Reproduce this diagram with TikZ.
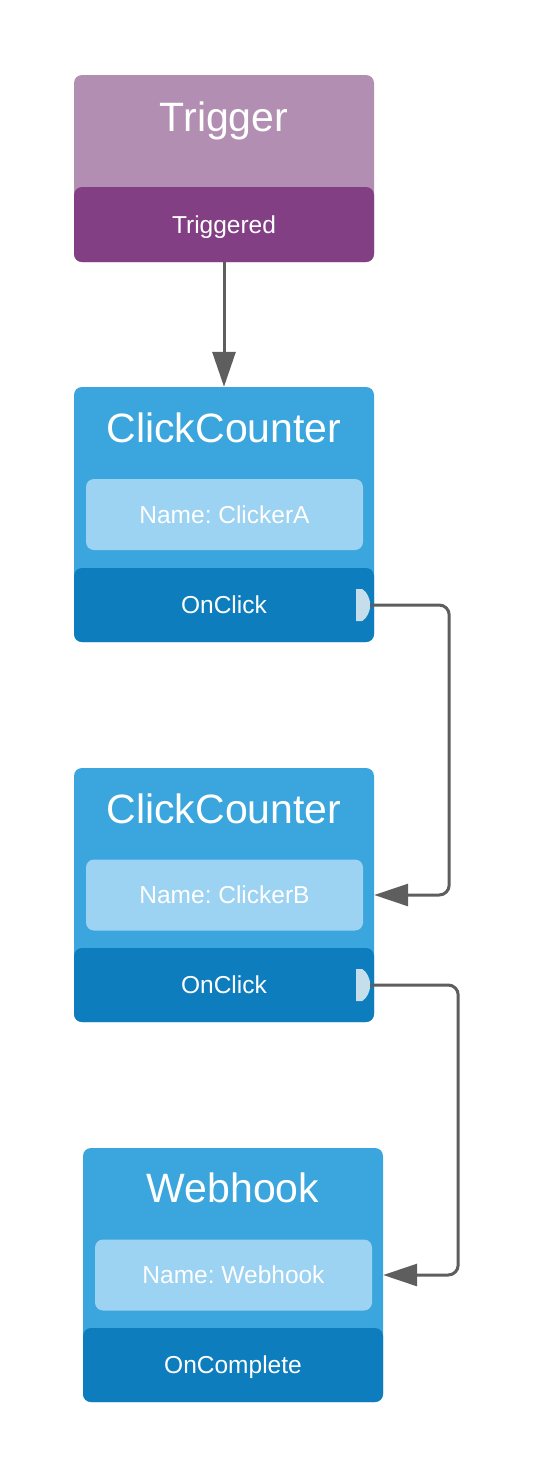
\documentclass[tikz,border=0pt]{standalone}
\usepackage{fontspec}
\setmainfont{Liberation Sans}
\usetikzlibrary{arrows.meta,calc}
\definecolor{trigLight}{HTML}{B28FB2}
\definecolor{trigDark}{HTML}{833F84}
\definecolor{blueMain}{HTML}{3BA5DD}
\definecolor{blueDark}{HTML}{0E7DBE}
\definecolor{blueName}{HTML}{9CD2F2}
\definecolor{portCol}{HTML}{C4DEEC}
\definecolor{connCol}{HTML}{5E5E5E}
\frenchspacing
\begin{document}
\begin{tikzpicture}[x=1pt,y=-1pt,
  box/.style={rectangle,rounded corners=8pt,minimum width=300pt,inner sep=0pt,draw=none},
  band/.style={rectangle,rounded corners=8pt,minimum width=300pt,minimum height=74pt,inner sep=0pt,
    text=white,font=\fontsize{24.5}{29}\selectfont,text height=17.5pt,text depth=0pt},
  namebox/.style={rectangle,rounded corners=8pt,fill=blueName,minimum width=277pt,minimum height=71pt,inner sep=0pt,
    text=white,font=\fontsize{24.5}{29}\selectfont,text height=17.5pt,text depth=0pt},
  titletext/.style={anchor=base,inner sep=0pt,text=white,font=\fontsize{41}{49}\selectfont},
  conn/.style={draw=connCol,line width=3pt,rounded corners=10pt},
  port/.pic={\fill[portCol] (-14,-16) -- (-8,-16) .. controls (-3,-13) and (0,-6) .. (0,0)
     .. controls (0,6) and (-3,13) .. (-8,16) -- (-14,16) -- cycle;}
]
\useasboundingbox (0,0) rectangle (534,1478);

% Trigger
\node[box,fill=trigLight,minimum height=187pt] (trig) at (224,168.5) {};
\node[band,fill=trigDark,minimum height=75pt] (trigBand) at (224,224.5) {Triggered};
\node[titletext] (trigTitle) at ($(trig.north)+(0,57)$) {Trigger};

% ClickCounter A
\node[box,fill=blueMain,minimum height=255pt] (ccA) at (224,514.5) {};
\node[namebox] (ccAName) at (224.5,514.5) {Name: ClickerA};
\node[band,fill=blueDark] (ccABand) at (224,605) {OnClick};
\node[titletext] (ccATitle) at ($(ccA.north)+(0,56)$) {ClickCounter};
\coordinate (pA) at ($(ccABand.east)+(-4,0)$);
\pic at (pA) {port};

% ClickCounter B
\node[box,fill=blueMain,minimum height=254pt] (ccB) at (224,895) {};
\node[namebox] (ccBName) at (224.5,895) {Name: ClickerB};
\node[band,fill=blueDark] (ccBBand) at (224,985) {OnClick};
\node[titletext] (ccBTitle) at ($(ccB.north)+(0,56)$) {ClickCounter};
\coordinate (pB) at ($(ccBBand.east)+(-4,0)$);
\pic at (pB) {port};

% Webhook
\node[box,fill=blueMain,minimum height=254pt] (wh) at (233,1275) {};
\node[namebox] (whName) at (233.5,1275) {Name: Webhook};
\node[band,fill=blueDark] (whBand) at (233,1365) {OnComplete};
\node[titletext] (whTitle) at ($(wh.north)+(0,55)$) {Webhook};

% Connectors
\draw[conn,-{Triangle[length=35pt,width=23pt]}] (trigBand.south) -- (ccA.north);
\draw[conn,-{Triangle[length=34pt,width=22pt]}] (pA) -- ($(pA)+(79,0)$) |- (ccB.east |- ccBName.center);
\draw[conn,-{Triangle[length=34pt,width=22pt]}] (pB) -- ($(pB)+(88,0)$) |- (wh.east |- whName.center);
\end{tikzpicture}
\end{document}
